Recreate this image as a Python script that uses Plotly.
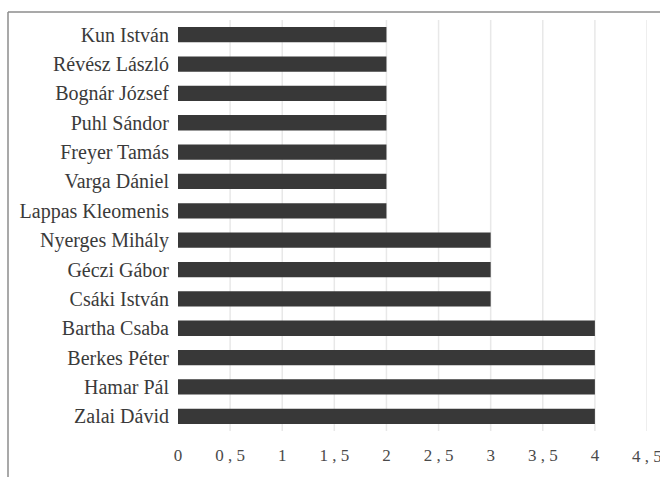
import plotly.graph_objects as go

# Names listed bottom-to-top (Plotly draws the first category at the bottom)
names = [
    "Zalai Dávid", "Hamar Pál", "Berkes Péter", "Bartha Csaba",
    "Csáki István", "Géczi Gábor", "Nyerges Mihály",
    "Lappas Kleomenis", "Varga Dániel", "Freyer Tamás", "Puhl Sándor",
    "Bognár József", "Révész László", "Kun István",
]
scores = [4, 4, 4, 4, 3, 3, 3, 2, 2, 2, 2, 2, 2, 2]

tick_vals = [0, 0.5, 1, 1.5, 2, 2.5, 3, 3.5, 4, 4.5]
tick_text = ["0", "0 , 5", "1", "1 , 5", "2", "2 , 5", "3", "3 , 5", "4", "4 , 5"]

W, H = 660, 477
ML, MR, MT, MB = 178, 13, 20, 43
SERIF = "Liberation Serif"

fig = go.Figure(
    go.Bar(
        x=scores,
        y=names,
        orientation="h",
        marker=dict(color="#383838", line=dict(width=0)),
    )
)

# Frame lines around the chart (top and left edges)
pw = W - ML - MR
ph = H - MT - MB
px_x = lambda p: (p - ML) / pw
px_y = lambda p: (H - MB - p) / ph
frame = dict(color="#8c8c8c", width=1.5)
fig.add_shape(type="line", xref="paper", yref="paper",
              x0=px_x(8), x1=px_x(700), y0=px_y(12), y1=px_y(12), line=frame)
fig.add_shape(type="line", xref="paper", yref="paper",
              x0=px_x(8), x1=px_x(8), y0=px_y(12), y1=px_y(520), line=frame)

# The last tick label runs past the right edge, so draw it as free text
fig.add_annotation(
    x=tick_vals[-1], xref="x", y=px_y(460), yref="paper",
    text=tick_text[-1], showarrow=False, xanchor="center", yanchor="middle",
    font=dict(family=SERIF, size=17, color="#4a4a4a"),
)

fig.update_layout(
    width=W,
    height=H,
    margin=dict(l=ML, r=MR, t=MT, b=MB),
    paper_bgcolor="white",
    plot_bgcolor="white",
    bargap=0.48,
    showlegend=False,
    font=dict(family=SERIF, color="#3c3c3c"),
)
fig.update_xaxes(
    range=[0, 4.5],
    tickvals=tick_vals[:-1],
    ticktext=tick_text[:-1],
    showgrid=False,
    zeroline=False,
    showline=False,
    ticks="",
    ticklabelstandoff=12,
    tickfont=dict(family=SERIF, size=17, color="#4a4a4a"),
)
# Vertical gridlines, including the one at the far right
for v in tick_vals[1:]:
    fig.add_vline(x=v, line=dict(color="#e8e8e8", width=1.5), layer="below")

fig.update_yaxes(
    categoryorder="array",
    categoryarray=names,
    showgrid=False,
    zeroline=False,
    showline=False,
    ticks="",
    ticklabelstandoff=8,
    tickfont=dict(family=SERIF, size=20, color="#3a3a3a"),
)

fig.write_html("out.html")
